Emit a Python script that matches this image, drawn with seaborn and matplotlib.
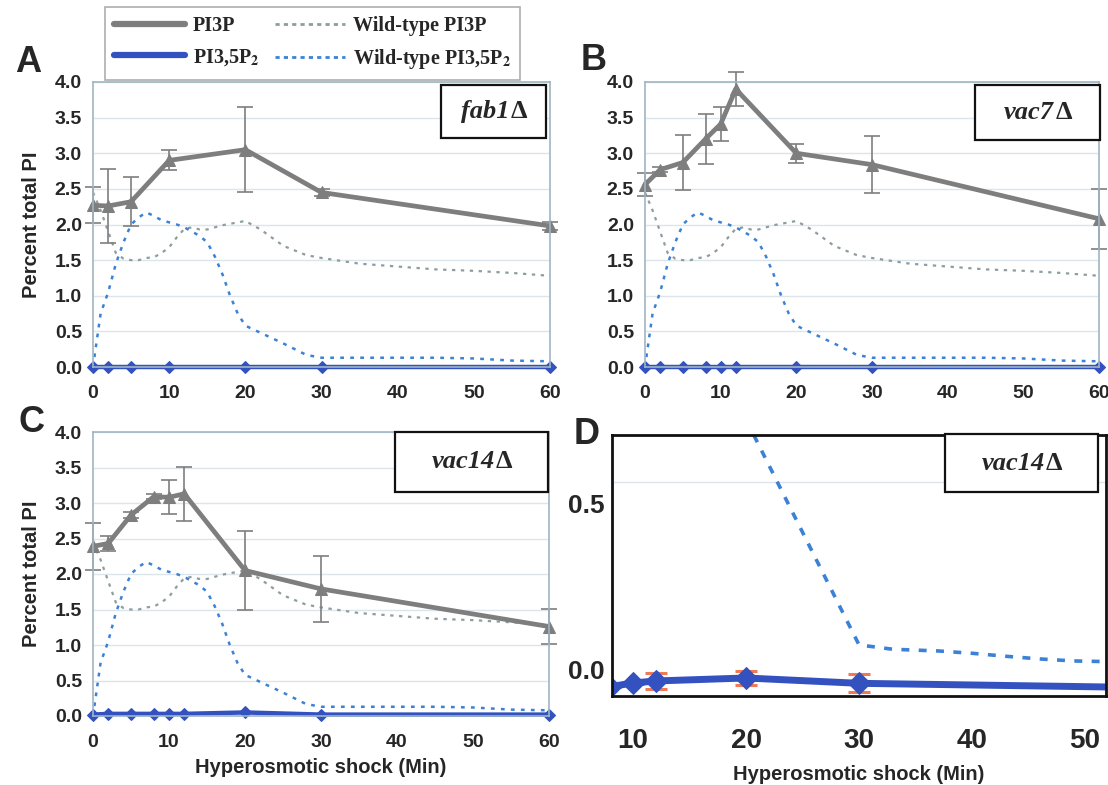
import numpy as np
import seaborn as sns
import matplotlib.pyplot as plt
from matplotlib.lines import Line2D
from matplotlib.patches import Rectangle
from matplotlib.ticker import FixedLocator

# wild-type reference curves, same in A, B and C
wt_time = [0, 1, 2, 3, 4, 5, 6, 7, 8, 9, 10, 11, 12, 13, 14, 15, 16, 17, 18, 19, 20,
           22, 25, 28, 30, 35, 40, 45, 50, 55, 60]
wt_pi3p = [2.45, 2.2, 1.9, 1.6, 1.52, 1.5, 1.5, 1.53, 1.54, 1.6, 1.68, 1.82, 1.94, 1.96,
           1.93, 1.93, 1.96, 1.99, 2.01, 2.03, 2.05, 1.93, 1.7, 1.57, 1.53, 1.45, 1.41,
           1.37, 1.35, 1.32, 1.28]
wt_pi35 = [0.0, 0.75, 1.05, 1.45, 1.75, 2.0, 2.1, 2.17, 2.12, 2.06, 2.03, 2.0, 1.96, 1.9,
           1.84, 1.75, 1.55, 1.3, 1.0, 0.75, 0.58, 0.48, 0.33, 0.17, 0.13, 0.13, 0.13,
           0.13, 0.12, 0.09, 0.08]

# A: fab1
a_time = [0, 2, 5, 10, 20, 30, 60]
a_pi3p = [2.27, 2.26, 2.32, 2.9, 3.05, 2.45, 1.98]
a_err = [0.25, 0.52, 0.34, 0.14, 0.6, 0.05, 0.06]
a_pi35 = [0.0, 0.0, 0.0, 0.0, 0.0, 0.0, 0.0]

# B: vac7
b_time = [0, 2, 5, 8, 10, 12, 20, 30, 60]
b_pi3p = [2.56, 2.77, 2.87, 3.2, 3.41, 3.9, 3.0, 2.84, 2.08]
b_err = [0.16, 0.04, 0.38, 0.35, 0.24, 0.24, 0.13, 0.4, 0.42]
b_pi35 = [0.0, 0.0, 0.0, 0.0, 0.0, 0.0, 0.0, 0.0, 0.0]

# C: vac14
c_time = [0, 2, 5, 8, 10, 12, 20, 30, 60]
c_pi3p = [2.39, 2.43, 2.83, 3.09, 3.08, 3.13, 2.05, 1.79, 1.26]
c_err = [0.33, 0.1, 0.04, 0.04, 0.24, 0.38, 0.55, 0.46, 0.25]
c_pi35 = [0.02, 0.03, 0.03, 0.03, 0.03, 0.03, 0.05, 0.02, 0.02]

# D: vac14 zoomed (values as read on its own axis)
d_time = [8, 10, 12, 20, 30, 60]
d_pi35 = [-0.05, -0.039, -0.033, -0.024, -0.04, -0.055]
d_err = [0.0, 0.004, 0.023, 0.021, 0.027, 0.02]
d_wt_time = [20, 30, 33, 37, 40, 43, 46, 49, 52]
d_wt_pi35 = [0.75, 0.075, 0.062, 0.057, 0.05, 0.041, 0.033, 0.027, 0.025]

gray_main = '#7e7e7e'
blue_main = '#3352c0'
wt_gray = '#8e9e9e'
wt_blue = '#3b82d6'
spine_col = '#9fb5c4'
grid_col = '#dde5ec'
err_orange = '#f07a55'
serif = ['Liberation Serif', 'DejaVu Serif']

sns.set_style('white')
plt.rcParams['font.family'] = ['Liberation Sans', 'DejaVu Sans']
plt.rcParams['mathtext.fontset'] = 'stix'

W, H = 1108, 785
fig = plt.figure(figsize=(W / 100, H / 100), dpi=100)
renderer = fig.canvas.get_renderer()


def px_axes(x0, x1, top, bot):
    return fig.add_axes([x0 / W, 1 - bot / H, (x1 - x0) / W, (bot - top) / H])


def label_box(x0, x1, top, bot, name):
    fig.add_artist(Rectangle((x0 / W, 1 - bot / H), (x1 - x0) / W, (bot - top) / H,
                             transform=fig.transFigure, facecolor='white',
                             edgecolor='#111111', lw=1.6, zorder=5))
    cy = 1 - (top + bot) / 2 / H
    # italic strain name followed by an upright delta
    t1 = fig.text(0, cy, name, ha='right', va='center', family=serif, style='italic',
                  weight='bold', fontsize=19, zorder=6)
    t2 = fig.text(0, cy, 'Δ', ha='left', va='center', family=serif, weight='bold',
                  fontsize=19, zorder=6)
    w1 = t1.get_window_extent(renderer).width
    w2 = t2.get_window_extent(renderer).width
    xs = ((x0 + x1) / 2 + (w1 - w2) / 2) / W
    t1.set_x(xs)
    t2.set_x(xs + 1 / W)


def excel_panel(ax, t, pi3p, err, pi35):
    dots = (0, (1.5, 2.5))
    sns.lineplot(x=wt_time, y=wt_pi3p, ax=ax, color=wt_gray, lw=1.6, linestyle=dots)
    sns.lineplot(x=wt_time, y=wt_pi35, ax=ax, color=wt_blue, lw=1.8, linestyle=dots)
    ax.errorbar(t, pi3p, yerr=err, fmt='none', ecolor=gray_main, elinewidth=1.2,
                capsize=6, capthick=1.2, clip_on=False)
    sns.lineplot(x=t, y=pi3p, ax=ax, color=gray_main, lw=3.4, marker='^',
                 markersize=9, markeredgecolor=gray_main)
    sns.lineplot(x=t, y=pi35, ax=ax, color=blue_main, lw=3.2, marker='D',
                 markersize=6, markeredgecolor=blue_main)
    for ln in ax.lines:
        ln.set_clip_on(False)
    ax.set_xlim(0, 60)
    ax.set_ylim(0, 4)
    ax.set_xticks(range(0, 61, 10))
    ax.set_yticks(np.arange(0, 4.01, 0.5))
    ax.set_yticklabels([f'{v:.1f}' for v in np.arange(0, 4.01, 0.5)])
    ax.tick_params(axis='both', length=0, labelsize=14)
    ax.tick_params(axis='x', pad=13)
    ax.tick_params(axis='y', pad=8)
    for lab in ax.get_xticklabels() + ax.get_yticklabels():
        lab.set_fontweight('bold')
    for s in ax.spines.values():
        s.set_color(spine_col)
        s.set_linewidth(1.2)
    ax.yaxis.grid(True, color=grid_col, lw=1)
    ax.set_axisbelow(True)
    ax.set_xlabel('')
    ax.set_ylabel('')


ax_a = px_axes(93, 550, 82, 367)
excel_panel(ax_a, a_time, a_pi3p, a_err, a_pi35)
ax_a.set_ylabel('Percent total PI', fontsize=14.5, fontweight='bold', labelpad=10)

ax_b = px_axes(645, 1099, 82, 367)
excel_panel(ax_b, b_time, b_pi3p, b_err, b_pi35)

ax_c = px_axes(93, 549, 432, 716)
excel_panel(ax_c, c_time, c_pi3p, c_err, c_pi35)
ax_c.set_ylabel('Percent total PI', fontsize=14.5, fontweight='bold', labelpad=10)
ax_c.set_xlabel('Hyperosmotic shock (Min)', fontsize=14.5, fontweight='bold', labelpad=5)

# D: zoom of the low range
ax_d = px_axes(612, 1106, 435, 696)
sns.lineplot(x=d_wt_time, y=d_wt_pi35, ax=ax_d, color=wt_blue, lw=2.6,
             linestyle=(0, (2.2, 2.6)))
ax_d.errorbar(d_time, d_pi35, yerr=d_err, fmt='none', ecolor=err_orange, elinewidth=2,
              capsize=8, capthick=2.2)
sns.lineplot(x=d_time, y=d_pi35, ax=ax_d, color=blue_main, lw=5, marker='D',
             markersize=11, markeredgecolor=blue_main)
ax_d.set_xlim(8.14, 51.85)
ax_d.set_ylim(-0.078, 0.704)
ax_d.set_xticks(range(10, 51, 10))
ax_d.set_yticks([0.0, 0.5])
ax_d.set_yticklabels(['0.0', '0.5'])
ax_d.yaxis.set_minor_locator(FixedLocator([0.563]))
ax_d.yaxis.grid(True, which='minor', color=grid_col, lw=1)
ax_d.tick_params(axis='y', which='both', length=0, labelsize=19, pad=5)
ax_d.tick_params(axis='x', length=4, color='#c8d2da', labelsize=20, pad=19)
for lab in ax_d.get_xticklabels() + ax_d.get_yticklabels():
    lab.set_fontweight('bold')
for s in ax_d.spines.values():
    s.set_color('#111111')
    s.set_linewidth(2)
ax_d.set_ylabel('')
ax_d.set_xlabel('Hyperosmotic shock (Min)', fontsize=14.5, fontweight='bold', labelpad=8)

# panel boxes with strain names
label_box(441, 546, 85, 138, 'fab1')
label_box(975, 1100, 85, 140, 'vac7')
label_box(395, 548, 432, 492, 'vac14')
label_box(945, 1098, 434, 492, 'vac14')

# panel letters
for lt, (px, py) in zip('ABCD', [(28, 62), (594, 61), (31, 423), (587, 435)]):
    fig.text(px / W, 1 - py / H, lt, fontsize=26, fontweight='bold', ha='center', va='center')

handles = [
    Line2D([], [], color=gray_main, lw=4.5),
    Line2D([], [], color=blue_main, lw=4.5),
    Line2D([], [], color=wt_gray, lw=2, linestyle=(0, (1.5, 1.5))),
    Line2D([], [], color=wt_blue, lw=2, linestyle=(0, (1.5, 1.5))),
]
labels = ['PI3P', r'PI3,5P$_\mathbf{2}$', 'Wild-type PI3P', r'Wild-type PI3,5P$_\mathbf{2}$']
leg = fig.legend(handles, labels, ncol=2, loc='lower left', mode='expand',
                 bbox_to_anchor=(105 / W, 1 - 80 / H, 415 / W, 67 / H), borderaxespad=0,
                 frameon=True, fancybox=False, edgecolor='#9a9a9a', handlelength=3.5,
                 handletextpad=0.4, columnspacing=1.0, labelspacing=0.55, borderpad=0.45,
                 prop={'family': serif, 'weight': 'bold', 'size': 14.5})
leg.get_frame().set_linewidth(1.2)
leg.set_zorder(10)

fig.savefig('out.png', dpi=100, facecolor='white')
